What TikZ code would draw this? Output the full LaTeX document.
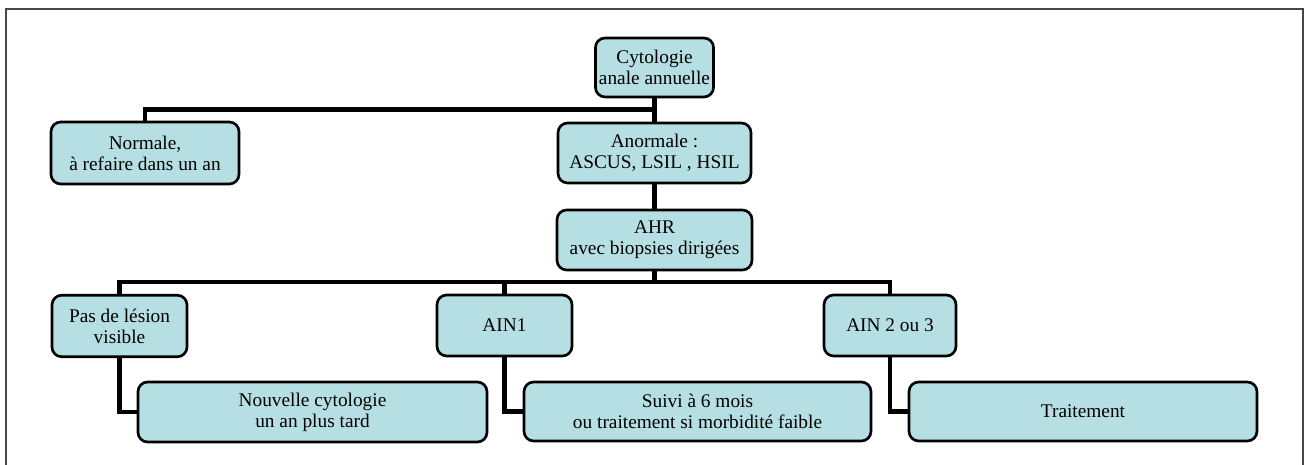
\documentclass[tikz,border=0pt]{standalone}
\usepackage{fontspec}
\setmainfont{Liberation Serif}
\usepackage{xcolor}
\definecolor{boxfill}{RGB}{182,223,228}
\definecolor{framegray}{RGB}{70,70,70}
\usetikzlibrary{positioning}

\begin{document}
\begin{tikzpicture}[
	box/.style={draw=black, line width=1.5pt, fill=boxfill, rounded corners=5.5pt,
		align=center, inner sep=2pt, minimum height=1.2cm,
		font=\rmfamily\fontsize{11}{12}\selectfont},
	conn/.style={line width=2.3pt, line cap=rect}]
	\useasboundingbox (0,0) rectangle (26.1,9.3);
	\draw[framegray, line width=0.6pt] (0.12,0) -- (0.12,9.12) -- (26.06,9.12) -- (26.06,0);

	\node[box, minimum width=2.34cm, minimum height=1.18cm] (cyto) at (13.09,7.95) {Cytologie\\anale annuelle};
	\node[box, minimum width=3.76cm, minimum height=1.24cm] (normale) at (2.90,6.24) {Normale,\\à refaire dans un an};
	\node[box, minimum width=3.86cm] (anormale) at (13.09,6.24) {Anormale :\\ASCUS, LSIL , HSIL};
	\node[box, minimum width=3.90cm] (ahr) at (13.09,4.50) {AHR\\avec biopsies dirigées};

	\node[box, minimum width=2.70cm, minimum height=1.23cm] (pas) at (2.39,2.78) {Pas de lésion\\visible};
	\node[box, minimum width=2.70cm, minimum height=1.22cm] (ain1) at (10.09,2.79) {AIN1};
	\node[box, minimum width=2.64cm, minimum height=1.22cm] (ain23) at (17.80,2.79) {AIN 2 ou 3};

	\node[box, minimum width=6.98cm] (nouvelle) at (6.25,1.06) {Nouvelle cytologie\\un an plus tard};
	\node[box, minimum width=6.94cm, minimum height=1.18cm] (suivi) at (13.95,1.07) {Suivi à 6 mois\\ou traitement si morbidité faible};
	\node[box, minimum width=6.96cm, minimum height=1.18cm] (trait) at (21.66,1.07) {Traitement};

	\coordinate (bus1) at (13.09,7.11);
	\coordinate (bus2) at (13.09,3.66);

\draw[conn] (cyto) -- (bus1); \draw[conn] (normale) |- (bus1); \draw[conn] (bus1) -- (anormale);
\draw[conn] (anormale) -- (ahr); \draw[conn] (ahr) -- (bus2); \draw[conn] (pas) |- (bus2); \draw[conn] (ain23) |- (bus2); \draw[conn] (ain1) -- (ain1 |- bus2);
\draw[conn] (pas) |- (nouvelle); \draw[conn] (ain1) |- (suivi); \draw[conn] (ain23) |- (trait);

\end{tikzpicture}
\end{document}
